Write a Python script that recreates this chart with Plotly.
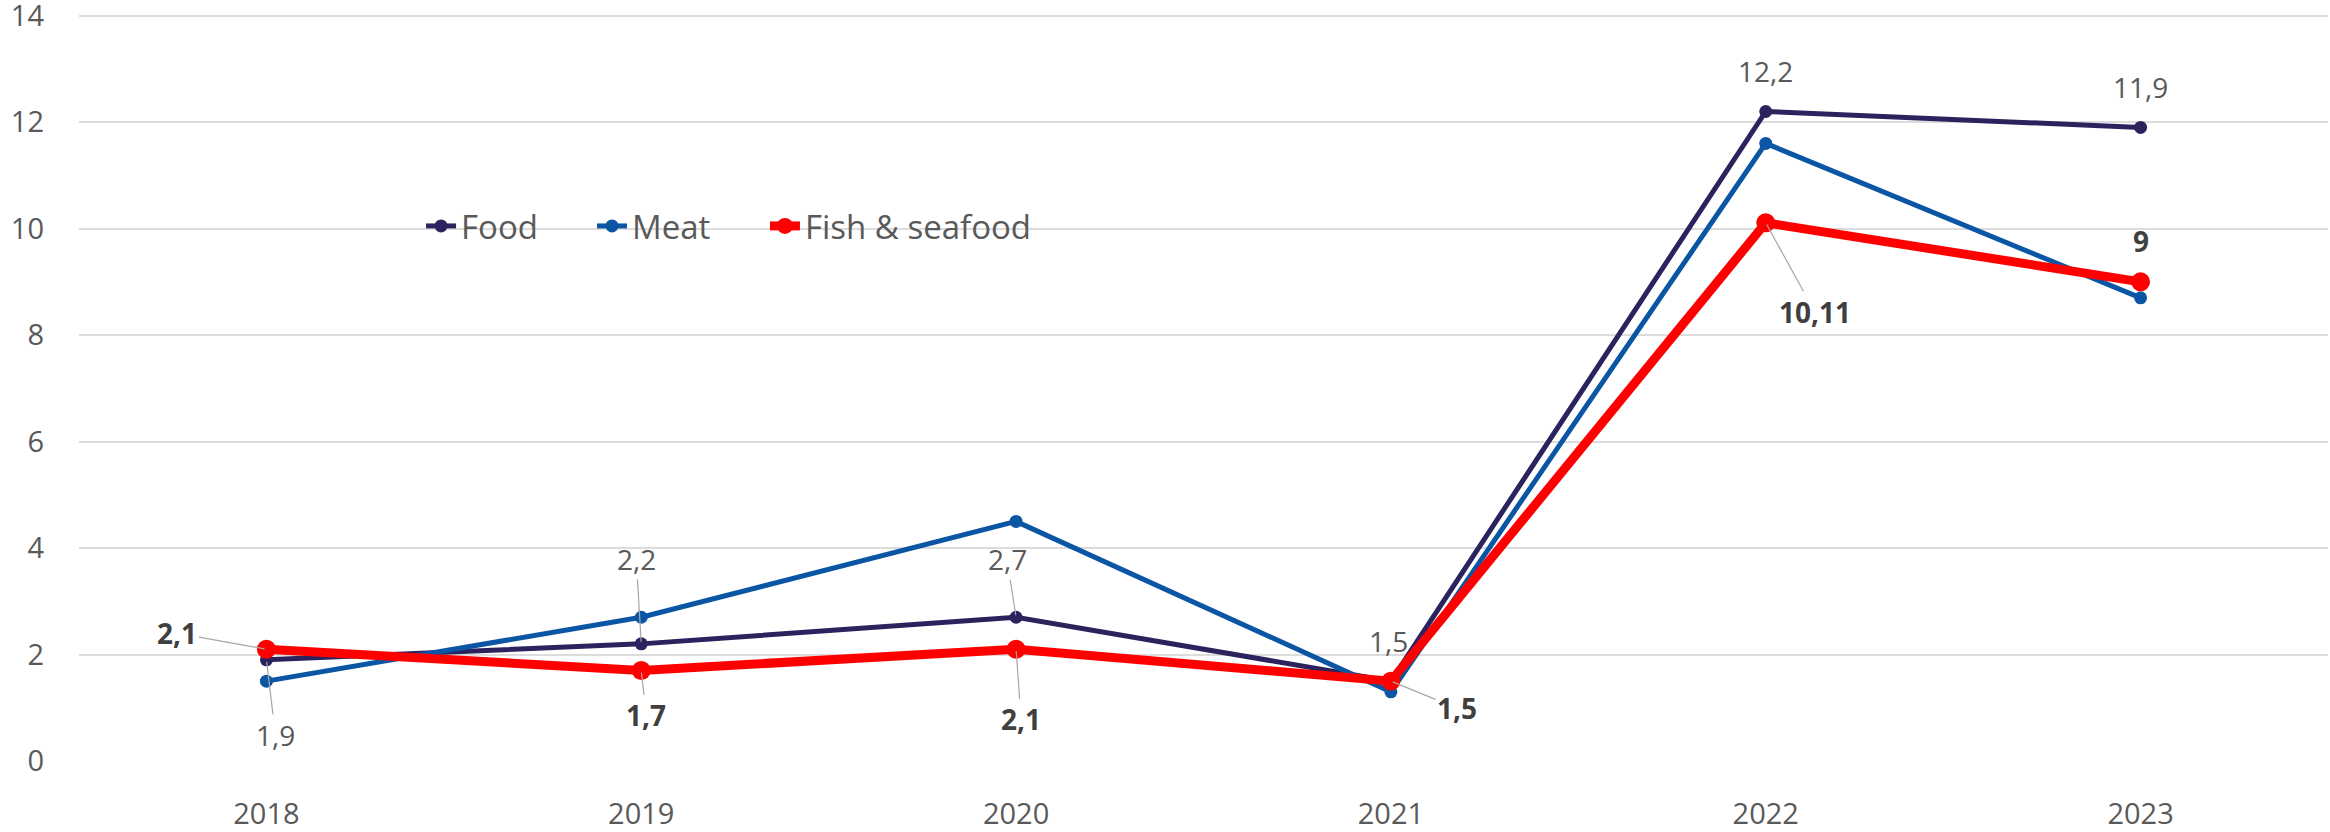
import plotly.graph_objects as go

years = ["2018", "2019", "2020", "2021", "2022", "2023"]
food = [1.9, 2.2, 2.7, 1.5, 12.2, 11.9]
meat = [1.5, 2.7, 4.5, 1.3, 11.6, 8.7]
fish = [2.1, 1.7, 2.1, 1.5, 10.11, 9.0]

food_labels = ["1,9", "2,2", "2,7", "1,5", "12,2", "11,9"]
fish_labels = ["2,1", "1,7", "2,1", "1,5", "10,11", "9"]

FONT = "Open Sans, Lato, sans-serif"
GRAY = "#595959"
DARK = "#3f3f3f"
LEADER = "#a6a6a6"

fig = go.Figure()
fig.add_trace(go.Scatter(x=years, y=food, name="Food", mode="lines+markers",
                         line=dict(color="#2b235e", width=5),
                         marker=dict(color="#2b235e", size=13), legend="legend"))
fig.add_trace(go.Scatter(x=years, y=meat, name="Meat", mode="lines+markers",
                         line=dict(color="#0b56a4", width=5),
                         marker=dict(color="#0b56a4", size=13), legend="legend2"))
fig.add_trace(go.Scatter(x=years, y=fish, name="Fish & seafood", mode="lines+markers",
                         line=dict(color="#ff0000", width=9),
                         marker=dict(color="#ff0000", size=19), legend="legend3"))

# (ax, ay, leader) pixel offsets of label centres relative to their points
food_off = [(9, 75, True), (-5, -85, True), (-9, -58, True), (-2, -40, False), (0, -40, False), (0, -40, False)]
fish_off = [(-89, -16, True), (5, 45, True), (5, 70, True), (66, 27, True), (49, 89, True), (0, -41, False)]

def add_labels(values, labels, offsets, bold, color):
    for i, (v, t, (ax, ay, arrow)) in enumerate(zip(values, labels, offsets)):
        txt = "<b>" + t + "</b>" if bold else t
        f = dict(family=FONT, size=28, color=color)
        if arrow:
            fig.add_annotation(x=i, y=v, xref="x", yref="y", text=txt, showarrow=True,
                               ax=ax, ay=ay, arrowhead=0, arrowwidth=1.2,
                               arrowcolor=LEADER, standoff=2, font=f)
        else:
            fig.add_annotation(x=i, y=v, xref="x", yref="y", text=txt, showarrow=False,
                               xshift=ax, yshift=-ay, font=f)

add_labels(food, food_labels, food_off, False, GRAY)
add_labels(fish, fish_labels, fish_off, True, DARK)

leg_common = dict(orientation="h", y=0.7077, xanchor="left", yanchor="middle",
                  font=dict(family=FONT, size=33, color=GRAY), bgcolor="rgba(0,0,0,0)",
                  itemwidth=30)

fig.update_layout(
    width=2330, height=832,
    margin=dict(l=79, r=2, t=5, b=71),
    paper_bgcolor="white", plot_bgcolor="white",
    font=dict(family=FONT, size=29, color=GRAY),
    showlegend=True,
    legend=dict(x=0.1521, **leg_common),
    legend2=dict(x=0.2281, **leg_common),
    legend3=dict(x=0.3050, **leg_common),
    xaxis=dict(type="category", range=[-0.5, 5.5], showgrid=False, showline=False,
               zeroline=False, ticks="", tickfont=dict(size=29, color=GRAY),
               ticklabelstandoff=33, automargin=False),
    yaxis=dict(range=[0, 14.2], tickvals=[0, 2, 4, 6, 8, 10, 12, 14], showgrid=True,
               gridcolor="#dcdcdc", gridwidth=2, zeroline=False, showline=False, ticks="",
               tickfont=dict(size=29, color=GRAY), ticklabelstandoff=34,
               ticklabeloverflow="allow", automargin=False),
)

fig.write_html("out.html", config={"displayModeBar": False},
               post_script="document.body.style.margin='0px';")
